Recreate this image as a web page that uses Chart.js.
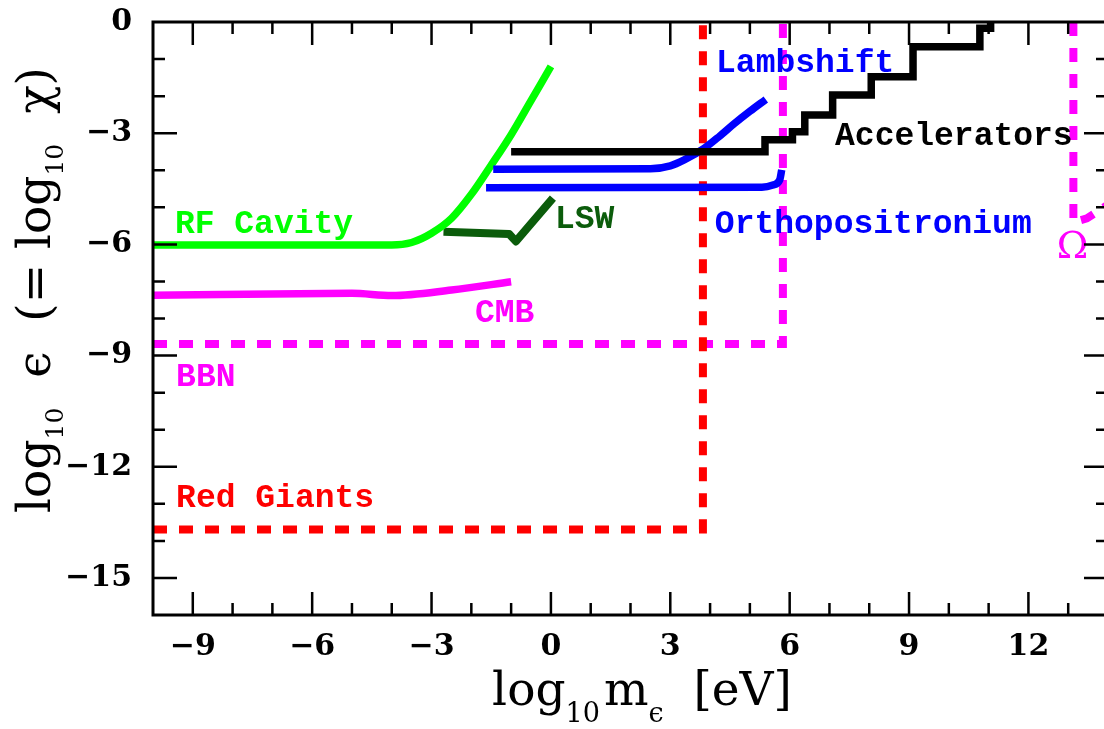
<!DOCTYPE html>
<html>
<head>
<meta charset="utf-8">
<title>Hidden photon limits</title>
<script src="https://cdn.jsdelivr.net/npm/chart.js@4.4.1/dist/chart.umd.min.js"></script>
<style>
  html, body { margin: 0; padding: 0; background: #fff; overflow: hidden; }
  #wrap { width: 1112px; height: 729px; }
</style>
</head>
<body>
<div id="wrap"><canvas id="chart" width="1112" height="729"></canvas></div>
<script>
// axis ticks
const xMajor = [-9, -6, -3, 0, 3, 6, 9, 12];
const yMajor = [0, -3, -6, -9, -12, -15];

// limits, log10 m [eV] vs log10 eps
const rfCavityX = [-10, -4, -3.5, -3, -2.5, -2, -1.5, -1, -0.5, 0];
const rfCavityY = [-6.02, -6.02, -5.95, -5.7, -5.3, -4.65, -3.86, -3.04, -2.12, -1.2];

const lswX = [-2.7, -1.05, -0.88, 0.05];
const lswY = [-5.66, -5.72, -5.92, -4.75];

const cmbX = [-10, -5, -4, -2.5, -1];
const cmbY = [-7.37, -7.32, -7.38, -7.23, -7.01];

const bbnX = [-10, 5.83, 5.83];
const bbnY = [-8.69, -8.69, 0];

const redGiantsX = [-10, 3.82, 3.82];
const redGiantsY = [-13.69, -13.69, 0];

const omegaX = [13.13, 13.13, 13.47, 14];
const omegaY = [0, -5.4, -5.3, -4.93];

const lambX = [-1.45, 2.5, 3.0, 3.35, 3.85, 4.25, 4.6, 5.0, 5.4];
const lambY = [-3.97, -3.96, -3.88, -3.72, -3.41, -3.07, -2.75, -2.41, -2.09];

const orthoX = [-1.63, 5.3, 5.58, 5.75, 5.8];
const orthoY = [-4.47, -4.46, -4.4, -4.26, -3.99];

const accX = [-1.0, 5.38, 5.38, 6.07, 6.07, 6.38, 6.38, 7.08, 7.08, 8.05, 8.05, 9.1, 9.1, 10.78, 10.78, 11.05, 11.05];
const accY = [-3.5, -3.5, -3.18, -3.18, -2.96, -2.96, -2.51, -2.51, -1.97, -1.97, -1.48, -1.48, -0.67, -0.67, -0.17, -0.17, 0];

const GREEN = '#00ff00', DKGREEN = '#0b5c0b', MAGENTA = '#ff00ff', RED = '#ff0000', BLUE = '#0000ff', BLACK = '#000000';

// curve labels, anchored in data units (left, baseline)
const notes = [
  { text: 'RF Cavity', x: -9.45, y: -5.69, color: GREEN },
  { text: 'LSW', x: 0.10, y: -5.56, color: DKGREEN },
  { text: 'Lambshift', x: 4.15, y: -1.35, color: BLUE },
  { text: 'Accelerators', x: 7.14, y: -3.32, color: BLACK },
  { text: 'Orthopositronium', x: 4.12, y: -5.69, color: BLUE },
  { text: 'CMB', x: -1.91, y: -8.09, color: MAGENTA },
  { text: 'BBN', x: -9.42, y: -9.82, color: MAGENTA },
  { text: 'Red Giants', x: -9.42, y: -13.08, color: RED },
  { text: 'Ω', x: 12.71, y: -6.37, color: MAGENTA, serif: true }
];

const TICK_FONT = { family: '"DejaVu Serif"', size: 30, weight: 'bold' };
const NOTE_FONT = 'bold 33px "Liberation Mono"';
const TITLE_FONT = '47px "DejaVu Serif"';

const fmt = v => (v < 0 ? '\u2212' + Math.abs(v) : String(v));
const pts = (xs, ys) => xs.map((x, i) => ({ x: x, y: ys[i] }));

function series(label, xs, ys, color, extra) {
  return Object.assign({
    label: label,
    data: pts(xs, ys),
    borderColor: color,
    backgroundColor: color,
    borderWidth: 7.5,
    pointRadius: 0,
    showLine: true,
    fill: false,
    tension: 0,
    order: 1
  }, extra || {});
}

const dashed = { borderDash: [14, 12], borderWidth: 8, order: 2 };
const smooth = { cubicInterpolationMode: 'monotone' };

const datasets = [
  series('Red Giants', redGiantsX, redGiantsY, RED, dashed),
  series('BBN', bbnX, bbnY, MAGENTA, dashed),
  series('Omega', omegaX, omegaY, MAGENTA, dashed),
  series('Accelerators', accX, accY, BLACK, { borderJoinStyle: 'miter' }),
  series('Lambshift', lambX, lambY, BLUE, smooth),
  series('Orthopositronium', orthoX, orthoY, BLUE, smooth),
  series('RF Cavity', rfCavityX, rfCavityY, GREEN, smooth),
  series('LSW', lswX, lswY, DKGREEN, { borderWidth: 8, borderJoinStyle: 'round' }),
  series('CMB', cmbX, cmbY, MAGENTA, smooth)
];

// draws "log10 ..." style text with subscripts, centred on cx
function drawRich(ctx, parts, cx, base, subFont, subDrop) {
  let w = 0;
  parts.forEach(p => {
    ctx.font = p.sub ? subFont : TITLE_FONT;
    w += ctx.measureText(p.t).width + (p.gap || 0);
  });
  let xx = cx - w / 2;
  parts.forEach(p => {
    ctx.font = p.sub ? subFont : TITLE_FONT;
    ctx.fillText(p.t, xx, base + (p.sub ? subDrop : 0));
    xx += ctx.measureText(p.t).width + (p.gap || 0);
  });
}

const framePlugin = {
  id: 'frame',
  afterDatasetsDraw(chart) {
    const { ctx, scales: { x, y } } = chart;
    ctx.save();
    ctx.textAlign = 'left';
    ctx.textBaseline = 'alphabetic';
    notes.forEach(n => {
      ctx.font = n.serif ? '38px "DejaVu Serif"' : NOTE_FONT;
      ctx.fillStyle = n.color;
      ctx.fillText(n.text, x.getPixelForValue(n.x), y.getPixelForValue(n.y));
    });
    ctx.restore();
  },
  afterDraw(chart) {
    const { ctx, chartArea: a, scales: { x, y } } = chart;
    ctx.save();
    ctx.strokeStyle = '#000';
    ctx.lineWidth = 2.5;
    ctx.beginPath();
    for (let v = -9; v <= 13; v++) {
      const px = x.getPixelForValue(v);
      const len = xMajor.includes(v) ? 23 : 12;
      ctx.moveTo(px, a.bottom); ctx.lineTo(px, a.bottom - len);
      ctx.moveTo(px, a.top); ctx.lineTo(px, a.top + len);
    }
    for (let v = -15; v <= -1; v++) {
      const py = y.getPixelForValue(v);
      const len = yMajor.includes(v) ? 24 : 12;
      ctx.moveTo(a.left, py); ctx.lineTo(a.left + len, py);
      ctx.moveTo(a.right, py); ctx.lineTo(a.right - len, py);
    }
    ctx.stroke();
    ctx.lineWidth = 3;
    ctx.strokeRect(a.left, a.top, a.right - a.left, a.bottom - a.top);

    ctx.fillStyle = '#000';
    ctx.textAlign = 'left';
    ctx.textBaseline = 'alphabetic';
    drawRich(ctx, [
      { t: 'log' }, { t: '10', sub: true, gap: 4 }, { t: 'm' }, { t: 'ϵ', sub: true }, { t: '  [eV]' }
    ], 642, 705, '27px "DejaVu Serif"', 17);

    ctx.translate(50, 290);
    ctx.rotate(-Math.PI / 2);
    drawRich(ctx, [
      { t: 'log' }, { t: '10', sub: true }, { t: '  ϵ  (= log' }, { t: '10', sub: true }, { t: '  χ)' }
    ], 0, 0, '25px "DejaVu Serif"', 13);
    ctx.restore();
  }
};

new Chart(document.getElementById('chart'), {
  type: 'scatter',
  data: { datasets: datasets },
  options: {
    responsive: false,
    animation: false,
    events: [],
    layout: { padding: { top: 22, right: 4, left: 0, bottom: 0 } },
    plugins: { legend: { display: false }, tooltip: { enabled: false } },
    scales: {
      x: {
        type: 'linear', min: -10, max: 14,
        afterBuildTicks: s => { s.ticks = xMajor.map(v => ({ value: v })); },
        afterFit: s => { s.height = 114; s.paddingLeft = 0; s.paddingRight = 0; },
        grid: { display: false, drawTicks: false, tickLength: 0 },
        border: { display: false },
        ticks: { font: TICK_FONT, color: '#000', padding: 14, maxRotation: 0, autoSkip: false, callback: v => fmt(v) }
      },
      y: {
        type: 'linear', min: -16, max: 0,
        afterBuildTicks: s => { s.ticks = yMajor.map(v => ({ value: v })); },
        afterFit: s => { s.width = 153; s.paddingTop = 0; s.paddingBottom = 0; },
        grid: { display: false, drawTicks: false, tickLength: 0 },
        border: { display: false },
        ticks: { font: TICK_FONT, color: '#000', padding: 21, autoSkip: false, callback: v => fmt(v) }
      }
    }
  },
  plugins: [framePlugin]
});
</script>
</body>
</html>
